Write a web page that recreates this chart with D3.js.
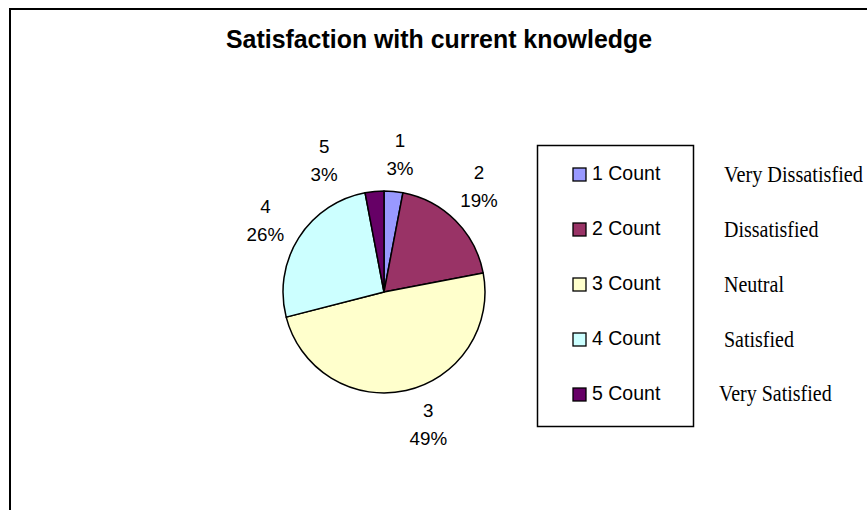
<!DOCTYPE html>
<html><head><meta charset="utf-8">
<script src="https://cdn.jsdelivr.net/npm/d3@7"></script>
<style>html,body{margin:0;padding:0;background:#fff;}svg{display:block;}</style>
</head><body>
<svg id="c" width="867" height="510"></svg>
<script>
const categories = ["1", "2", "3", "4", "5"];
const percents = [3, 19, 49, 26, 3];
const legendLabels = ["1 Count", "2 Count", "3 Count", "4 Count", "5 Count"];
const meaningLabels = ["Very Dissatisfied", "Dissatisfied", "Neutral", "Satisfied", "Very Satisfied"];
const colors = ["#9999FF", "#993366", "#FFFFCC", "#CCFFFF", "#660066"];
const labelAngleShift = [1.2, -3, -6, -1, -19]; // degrees, overlap avoidance like Excel
const labelRadialShift = [0, 3, 0, 0, 6];
const title = "Satisfaction with current knowledge";

const svg = d3.select("#c");
svg.append("rect").attr("x", 10).attr("y", 9).attr("width", 900).attr("height", 560)
  .attr("fill", "#fff").attr("stroke", "#000").attr("stroke-width", 2);

svg.append("text").attr("x", 439).attr("y", 48).attr("text-anchor", "middle")
  .attr("font-family", "Liberation Sans, Arial, sans-serif").attr("font-weight", "bold")
  .attr("font-size", 24.9).attr("fill", "#000").text(title);

const cx = 384, cy = 292, r = 101;
const total = d3.sum(percents);
const pie = d3.pie().sort(null).value(d => d)(percents);
const arc = d3.arc().innerRadius(0).outerRadius(r);
const g = svg.append("g").attr("transform", `translate(${cx},${cy})`);
g.selectAll("path").data(pie).join("path")
  .attr("d", arc).attr("fill", (d, i) => colors[i])
  .attr("stroke", "#000").attr("stroke-width", 1.5).attr("stroke-linejoin", "round");

const fmt = v => Math.round(v / total * 100) + "%";
const labR = 139;
pie.forEach((d, i) => {
  const a = (d.startAngle + d.endAngle) / 2 + labelAngleShift[i] * Math.PI / 180;
  const rr = labR + labelRadialShift[i];
  const x = rr * Math.sin(a), y = -rr * Math.cos(a);
  const t = g.append("text").attr("text-anchor", "middle")
    .attr("font-family", "Liberation Sans, Arial, sans-serif").attr("font-size", 18.8).attr("fill", "#000");
  t.append("tspan").attr("x", x).attr("y", y - 7).text(categories[i]);
  t.append("tspan").attr("x", x).attr("y", y + 21).text(fmt(d.data));
});

// legend
svg.append("rect").attr("x", 537.5).attr("y", 145.5).attr("width", 156).attr("height", 281)
  .attr("fill", "#fff").attr("stroke", "#000").attr("stroke-width", 1.5);
const ly = d3.scalePoint().domain(categories).range([180, 400]);
categories.forEach((c, i) => {
  svg.append("rect").attr("x", 573).attr("y", ly(c) - 12).attr("width", 13).attr("height", 13)
    .attr("fill", colors[i]).attr("stroke", "#000").attr("stroke-width", 1.3);
  svg.append("text").attr("x", 592).attr("y", ly(c))
    .attr("font-family", "Liberation Sans, Arial, sans-serif").attr("font-size", 19.5).attr("fill", "#000")
    .text(legendLabels[i]);
  const tx = i === 4 ? 719 : 724;
  const by = ly(c) + 2 - (i === 4 ? 1 : 0);
  const t = svg.append("text").attr("transform", `translate(${tx},${by}) scale(1,1.18)`)
    .attr("font-family", "Liberation Serif, Times New Roman, serif").attr("font-size", 20).attr("fill", "#000")
    .text(meaningLabels[i]);
  if (i === 0) t.attr("textLength", 139).attr("lengthAdjust", "spacingAndGlyphs");
});
</script>
</body></html>
